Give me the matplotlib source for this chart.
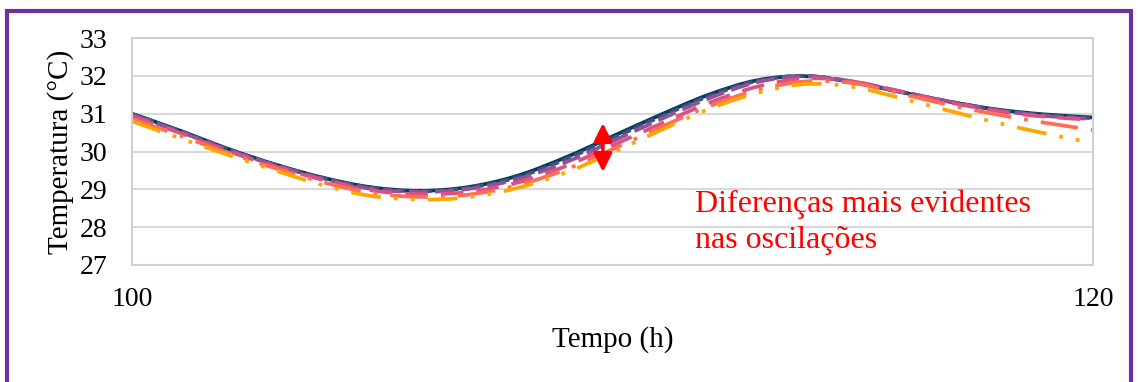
"""Temperature oscillations between hours 100 and 120, six simulated cases."""
import matplotlib
matplotlib.use("Agg")
import matplotlib.pyplot as plt
from matplotlib.patches import PathPatch, Rectangle
from matplotlib.path import Path

plt.rcParams["font.family"] = ["Liberation Serif", "DejaVu Serif"]

HOURS = list(range(100, 121))

# temperatures (°C) read hour by hour off the original chart
TEMP_S1 = [31.00, 30.55, 30.07, 29.65, 29.30, 29.05, 28.96, 29.06, 29.35, 29.83, 30.40,
           30.97, 31.50, 31.88, 31.99, 31.83, 31.57, 31.32, 31.11, 30.98, 30.90]
TEMP_S2 = [30.99, 30.54, 30.06, 29.64, 29.29, 29.04, 28.95, 29.04, 29.31, 29.78, 30.35,
           30.92, 31.46, 31.86, 32.00, 31.84, 31.58, 31.32, 31.10, 30.96, 30.88]
TEMP_S3 = [30.97, 30.52, 30.04, 29.63, 29.27, 29.01, 28.93, 29.01, 29.26, 29.70, 30.27,
           30.85, 31.40, 31.83, 31.99, 31.85, 31.59, 31.32, 31.09, 30.94, 30.86]
TEMP_S4 = [30.93, 30.49, 30.01, 29.60, 29.24, 28.97, 28.87, 28.93, 29.17, 29.60, 30.16,
           30.73, 31.28, 31.71, 31.93, 31.85, 31.58, 31.30, 31.07, 30.92, 30.84]
TEMP_S5 = [30.86, 30.42, 29.96, 29.55, 29.18, 28.90, 28.80, 28.86, 29.10, 29.51, 30.06,
           30.64, 31.19, 31.62, 31.85, 31.81, 31.53, 31.23, 30.98, 30.76, 30.57]
TEMP_S6 = [30.80, 30.35, 29.91, 29.49, 29.10, 28.82, 28.73, 28.79, 29.03, 29.43, 29.97,
           30.56, 31.12, 31.54, 31.78, 31.71, 31.41, 31.08, 30.76, 30.48, 30.22]

Y_TICKS = [27, 28, 29, 30, 31, 32, 33]
X_TICKS = [100, 120]

NOTE = "Diferenças mais evidentes\nnas oscilações"


def smooth_path(xs, ys) -> Path:
    """Excel-like smoothed line: Catmull-Rom segments as cubic Beziers."""
    pts = list(zip(xs, ys))
    verts = [pts[0]]
    codes = [Path.MOVETO]
    n = len(pts)
    for i in range(n - 1):
        p0 = pts[max(i - 1, 0)]
        p1 = pts[i]
        p2 = pts[i + 1]
        p3 = pts[min(i + 2, n - 1)]
        c1 = (p1[0] + (p2[0] - p0[0]) / 6, p1[1] + (p2[1] - p0[1]) / 6)
        c2 = (p2[0] - (p3[0] - p1[0]) / 6, p2[1] - (p3[1] - p1[1]) / 6)
        verts += [c1, c2, p2]
        codes += [Path.CURVE4] * 3
    return Path(verts, codes)


def main() -> None:
    fig = plt.figure(figsize=(11.39, 3.82), dpi=100)
    ax = fig.add_axes([0.1159, 0.3063, 0.8437, 0.5942])

    series = [
        (TEMP_S1, "#003f5c", "-"),
        (TEMP_S2, "#444e86", (0, (2.5, 1))),
        (TEMP_S3, "#955196", (0, (5, 2))),
        (TEMP_S4, "#dd5182", (0, (6, 3.5))),
        (TEMP_S5, "#ff6e54", (0, (10, 3.5, 1, 3.5))),
        (TEMP_S6, "#ffa600", (0, (8, 3.5, 1, 3.5, 1, 3.5))),
    ]
    for values, color, style in series:
        ax.add_patch(PathPatch(smooth_path(HOURS, values), fill=False, edgecolor=color,
                               linestyle=style, linewidth=2.7, capstyle="butt",
                               joinstyle="round"))

    ax.set_xlim(100, 120)
    ax.set_ylim(27, 33)
    ax.set_xticks(X_TICKS)
    ax.set_yticks(Y_TICKS)
    ax.tick_params(axis="both", length=0, labelsize=20)
    ax.tick_params(axis="x", pad=16)
    ax.tick_params(axis="y", pad=18)
    ax.grid(axis="y", color="#d9d9d9", linewidth=1.5)
    ax.set_axisbelow(True)
    for spine in ax.spines.values():
        spine.set_color("#d0d0d0")
        spine.set_linewidth(1.5)

    ax.set_xlabel("Tempo (h)", fontsize=21, labelpad=10)
    ax.set_ylabel("Temperatura (°C)", fontsize=21, labelpad=4)

    # double arrow marking the spread between cases
    ax.annotate("", xy=(109.8, 30.75), xytext=(109.8, 29.46),
                arrowprops=dict(arrowstyle="<|-|>,head_length=0.5,head_width=0.25",
                                color="red", lw=2.5, mutation_scale=22,
                                shrinkA=0, shrinkB=0))
    ax.text(111.72, 28.13, NOTE, color="red", fontsize=23, ha="left", va="center",
            linespacing=1.3)

    # purple frame around the slide region
    fig.patches.append(Rectangle((6.5 / 1139, -0.05), 1124 / 1139, 1.05 - 11 / 382,
                                 transform=fig.transFigure, fill=False,
                                 edgecolor="#7030a0", linewidth=3))

    fig.savefig("out.png", dpi=100)
    plt.close(fig)


if __name__ == "__main__":
    main()
